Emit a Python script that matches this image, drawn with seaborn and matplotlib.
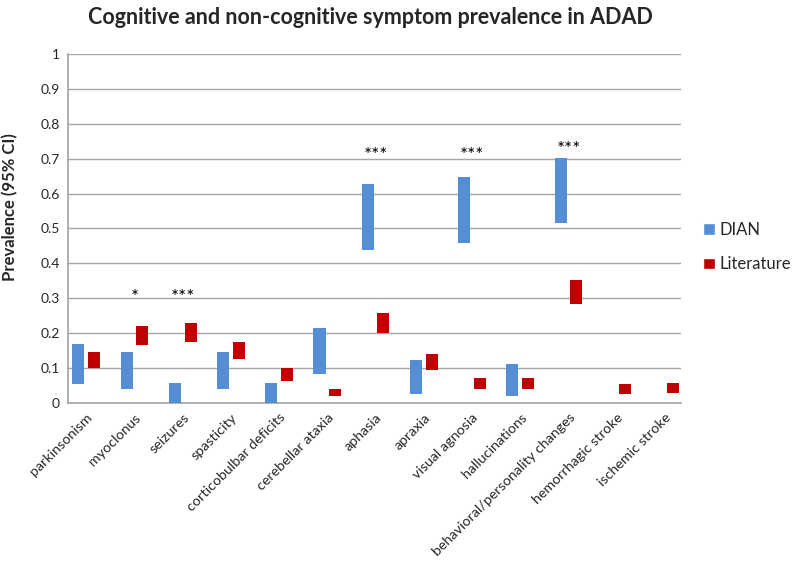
import numpy as np
import pandas as pd
import matplotlib
matplotlib.use("Agg")
import matplotlib.pyplot as plt
from matplotlib.patches import Patch
import seaborn as sns

# Symptom categories and 95% CI ranges
symptoms = ['parkinsonism', 'myoclonus', 'seizures', 'spasticity',
            'corticobulbar deficits', 'cerebellar ataxia', 'aphasia', 'apraxia',
            'visual agnosia', 'hallucinations', 'behavioral/personality changes',
            'hemorrhagic stroke', 'ischemic stroke']
dian_low = [0.054, 0.039, 0.0, 0.039, 0.0, 0.083, 0.439, 0.025, 0.458, 0.019, 0.515, np.nan, np.nan]
dian_high = [0.170, 0.146, 0.058, 0.146, 0.058, 0.216, 0.627, 0.124, 0.646, 0.112, 0.701, np.nan, np.nan]
lit_low = [0.101, 0.166, 0.175, 0.125, 0.063, 0.019, 0.200, 0.094, 0.039, 0.039, 0.284, 0.027, 0.029]
lit_high = [0.146, 0.221, 0.230, 0.174, 0.099, 0.041, 0.259, 0.140, 0.071, 0.071, 0.351, 0.055, 0.057]
sig_marks = ['', '*', '***', '', '', '', '***', '', '***', '', '***', '', '']
sig_y = [0, 0.287, 0.287, 0, 0, 0, 0.692, 0, 0.692, 0, 0.711, 0, 0]

blue = '#558ED5'
red = '#C00000'

sns.set_theme(style='white')
plt.rcParams['font.family'] = ['Lato', 'DejaVu Sans']

fig = plt.figure(figsize=(8, 5.62), dpi=100)
ax = fig.add_axes([0.0854, 0.283, 0.7657, 0.621])

pos = np.arange(len(symptoms))
offset = 0.163
bar_w = 0.25


def floating_bars(low, high, x, color):
    df = pd.DataFrame({'x': x, 'low': low, 'high': high}).dropna()
    sns.barplot(x=df['x'], y=df['high'] - df['low'], bottom=df['low'].values,
                native_scale=True, width=bar_w, color=color, saturation=1,
                errorbar=None, linewidth=0, ax=ax, zorder=3)


floating_bars(dian_low, dian_high, pos - offset, blue)
floating_bars(lit_low, lit_high, pos + offset, red)

# significance markers
for i, m in enumerate(sig_marks):
    if m:
        ax.text(pos[i], sig_y[i], m, ha='center', va='baseline', fontsize=13.5, color='black')

ax.set_xlim(-0.371, 12.33)
ax.set_ylim(0, 1)
ax.set_yticks(np.arange(0, 1.01, 0.1))
ax.set_yticklabels(['0', '0.1', '0.2', '0.3', '0.4', '0.5', '0.6', '0.7', '0.8', '0.9', '1'], fontsize=10)
ax.set_xticks(pos)
ax.set_xticklabels(symptoms, rotation=45, ha='right', rotation_mode='anchor', fontsize=10.3)
ax.tick_params(axis='x', length=0, pad=6)
ax.tick_params(axis='y', length=0, pad=6)
ax.set_xlabel('')
ax.yaxis.grid(True, color='#A6A6A6', linewidth=1)
ax.set_axisbelow(True)
for s in ['top', 'right']:
    ax.spines[s].set_visible(False)
ax.spines['bottom'].set_color('#A6A6A6')
ax.spines['left'].set_color('#A6A6A6')
ax.set_ylabel('Prevalence (95% CI)', fontsize=12, fontweight='bold')
ax.yaxis.set_label_coords(-0.082, 0.56)

fig.text(370 / 800, 1 - 17 / 562, 'Cognitive and non-cognitive symptom prevalence in ADAD',
         ha='center', va='center', fontsize=15.5, fontweight='bold')

handles = [Patch(facecolor=blue, label='DIAN'), Patch(facecolor=red, label='Literature')]
fig.legend(handles=handles, loc='center left', bbox_to_anchor=(0.86, 0.56), frameon=False,
           fontsize=12, handlelength=0.7, handleheight=0.7, handletextpad=0.3, labelspacing=1.1)

fig.savefig('out.png', dpi=100)
